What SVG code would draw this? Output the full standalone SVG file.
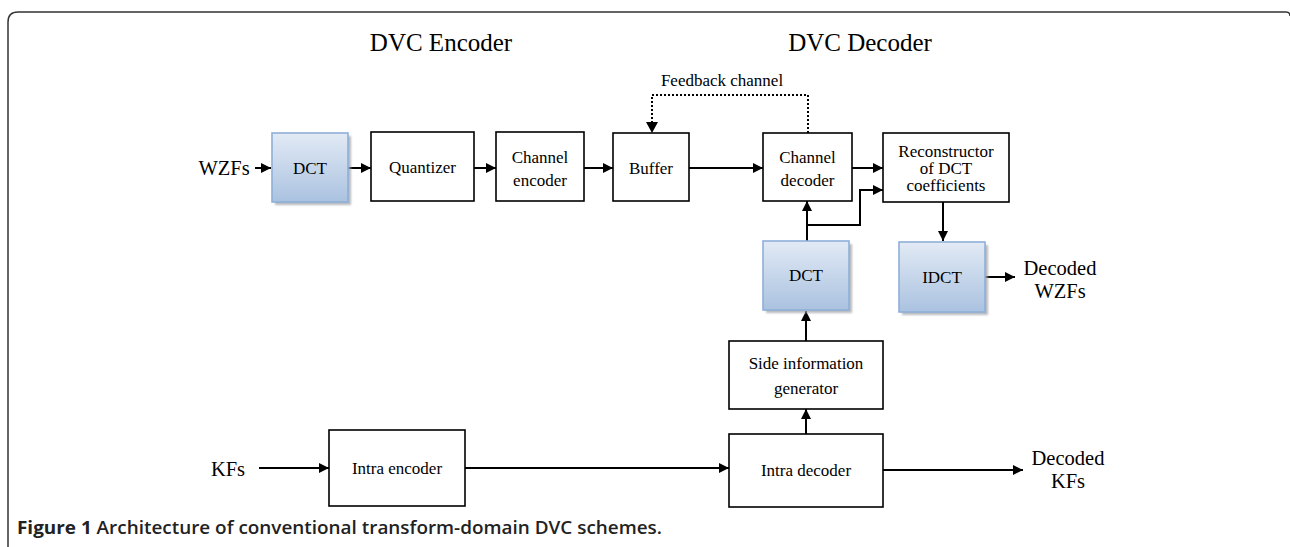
<svg xmlns="http://www.w3.org/2000/svg" width="1290" height="547" viewBox="0 0 1290 547">
<style>
.box{fill:#fff;stroke:#000;stroke-width:1.6}
.blue{fill:url(#bg);stroke:#8fafd8;stroke-width:1.6}
.shadow{fill:#9ea3a8;opacity:0.75}
.lbl{font-family:"Liberation Serif","Times New Roman",serif;font-size:17px;fill:#000;text-anchor:middle}
.big{font-family:"Liberation Serif","Times New Roman",serif;font-size:20.5px;fill:#000;text-anchor:middle}
.title{font-family:"Liberation Serif","Times New Roman",serif;font-size:25px;fill:#000;text-anchor:middle}
.wire{fill:none;stroke:#000;stroke-width:2}
.arr{marker-end:url(#ah)}
.dot{fill:none;stroke:#000;stroke-width:2;stroke-dasharray:2 2}
.cap{font-family:"Open Sans","Liberation Sans",sans-serif;font-size:18.5px;fill:#222}
</style>
<defs>
<linearGradient id="bg" x1="0" y1="0" x2="0" y2="1">
<stop offset="0" stop-color="#e2eaf5"/>
<stop offset="1" stop-color="#aac2e0"/>
</linearGradient>
<filter id="blur" x="-10%" y="-10%" width="130%" height="130%"><feGaussianBlur stdDeviation="1"/></filter>
<marker id="ah" markerUnits="userSpaceOnUse" markerWidth="11" markerHeight="11" refX="10" refY="5" orient="auto">
<path d="M0,0 L10,5 L0,10 z" fill="#000"/>
</marker>
</defs>
<rect width="1290" height="547" fill="#fff"/>
<path d="M8 547 V22 Q8 12 18 12 H1286 Q1290 12 1290 16" fill="none" stroke="#333" stroke-width="1.5"/>

<text class="title" x="441" y="51">DVC Encoder</text>
<text class="title" x="860" y="51">DVC Decoder</text>
<text class="lbl" x="722" y="86" font-size="16.5">Feedback channel</text>
<text class="big" x="224" y="175">WZFs</text>
<text class="big" x="228" y="476">KFs</text>
<text class="big" x="1060" y="275">Decoded</text>
<text class="big" x="1060" y="298">WZFs</text>
<text class="big" x="1068" y="465">Decoded</text>
<text class="big" x="1068" y="488">KFs</text>

<g id="connectors">
<path class="wire arr" d="M255 168 H271"/>
<path class="wire arr" d="M348 168 H371"/>
<path class="wire arr" d="M474 168 H496"/>
<path class="wire arr" d="M584 168 H613"/>
<path class="wire arr" d="M689 168 H763"/>
<path class="dot" d="M808 133 V95 H652 V124"/>
<path d="M646 122 L658 122 L652 133 z" fill="#000"/>
<path class="wire arr" d="M852 168 H883"/>
<path class="wire arr" d="M807 241 V201"/>
<path class="wire arr" d="M807 225 H860 V190 H883"/>
<path class="wire arr" d="M943 202 V241"/>
<path class="wire arr" d="M985 277 H1015"/>
<path class="wire arr" d="M806 341 V311"/>
<path class="wire arr" d="M806 434 V409"/>
<path class="wire arr" d="M259 468 H329"/>
<path class="wire arr" d="M465 468 H729"/>
<path class="wire arr" d="M883 470 H1023"/>
</g>

<g id="dct-enc">
<rect class="shadow" x="275" y="136" width="76" height="69" filter="url(#blur)"/>
<rect class="blue" x="272" y="133" width="76" height="69"/>
<text class="lbl" x="310" y="174">DCT</text>
</g>
<g id="quantizer">
<rect class="box" x="371" y="132" width="103" height="69"/>
<text class="lbl" x="422.5" y="173">Quantizer</text>
</g>
<g id="channel-encoder">
<rect class="box" x="496" y="132" width="88" height="69"/>
<text class="lbl" x="540" y="163">Channel</text>
<text class="lbl" x="540" y="186">encoder</text>
</g>
<g id="buffer">
<rect class="box" x="613" y="133" width="76" height="68"/>
<text class="lbl" x="651" y="174">Buffer</text>
</g>
<g id="channel-decoder">
<rect class="box" x="763" y="133" width="89" height="68"/>
<text class="lbl" x="807.5" y="163">Channel</text>
<text class="lbl" x="807.5" y="186">decoder</text>
</g>
<g id="reconstructor">
<rect class="box" x="883" y="133" width="126" height="69"/>
<text class="lbl" x="946" y="157">Reconstructor</text>
<text class="lbl" x="946" y="174">of DCT</text>
<text class="lbl" x="946" y="191">coefficients</text>
</g>
<g id="dct-dec">
<rect class="shadow" x="766" y="244" width="86" height="69" filter="url(#blur)"/>
<rect class="blue" x="763" y="241" width="86" height="69"/>
<text class="lbl" x="806" y="281">DCT</text>
</g>
<g id="idct">
<rect class="shadow" x="902" y="245" width="86" height="70" filter="url(#blur)"/>
<rect class="blue" x="899" y="242" width="86" height="70"/>
<text class="lbl" x="942" y="283">IDCT</text>
</g>
<g id="side-info">
<rect class="box" x="729" y="341" width="154" height="68"/>
<text class="lbl" x="806" y="369">Side information</text>
<text class="lbl" x="806" y="394">generator</text>
</g>
<g id="intra-encoder">
<rect class="box" x="329" y="430" width="136" height="76"/>
<text class="lbl" x="397" y="474">Intra encoder</text>
</g>
<g id="intra-decoder">
<rect class="box" x="729" y="434" width="154" height="73"/>
<text class="lbl" x="806" y="476">Intra decoder</text>
</g>

<text class="cap" x="17" y="534" textLength="645" lengthAdjust="spacingAndGlyphs"><tspan font-weight="700">Figure 1</tspan><tspan font-weight="600"> Architecture of conventional transform-domain DVC schemes.</tspan></text>
</svg>
